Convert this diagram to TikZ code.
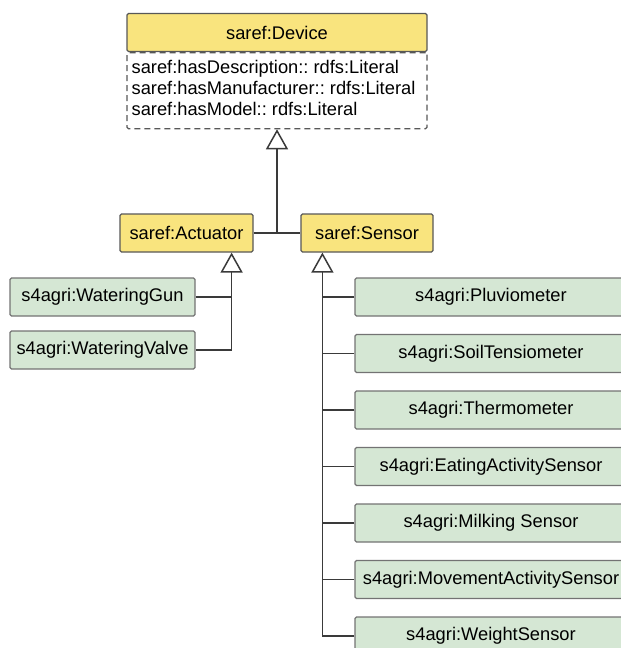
\documentclass[tikz,border=0pt]{standalone}
\usepackage{xcolor}
\usepackage{fontspec}
\setmainfont{Liberation Sans}
\usetikzlibrary{arrows.meta}
\definecolor{headyellow}{RGB}{249,228,126}
\definecolor{subgreen}{RGB}{213,231,212}
\definecolor{edgegray}{RGB}{58,58,58}
\frenchspacing
\tikzstyle{classbox} = [rectangle, rounded corners=1.5pt, minimum height=38pt, inner sep=2pt, text centered, draw=edgegray!85, line width=1.2pt, fill=headyellow]
\tikzstyle{subbox} = [classbox, fill=subgreen, draw=gray!90!black]
\tikzstyle{attrbox} = [rectangle, rounded corners=1.5pt, minimum width=300pt, minimum height=76pt, draw=edgegray!85, line width=1.2pt, dash pattern=on 6pt off 4pt]
\tikzstyle{attrtext} = [anchor=north west, align=left, inner sep=0pt]
\tikzstyle{link} = [line width=1.5pt, draw=edgegray]
\tikzstyle{inherit} = [link, -{Triangle[open, length=20pt, width=22pt, line width=1.5pt]}]

\begin{document}
\begin{tikzpicture}[x=1pt, y=-1pt, font=\fontsize{18.3}{21}\selectfont]
	\useasboundingbox (0,0) rectangle (621,648);
	\clip (0,0) rectangle (621,648);

	% top class with its attributes
	\node (device) [classbox, minimum width=300pt] at (277,32.5) {saref:Device};
	\node (devattr) [attrbox, anchor=north] at (device.south) {};
	\node (devtext) [attrtext] at ([xshift=5pt, yshift=-8pt]devattr.north west) {saref:hasDescription:: rdfs:Literal\\saref:hasManufacturer:: rdfs:Literal\\saref:hasModel:: rdfs:Literal};

	\node (actuator) [classbox, minimum width=133pt] at (186.5,233) {saref:Actuator};
	\node (sensor) [classbox, minimum width=132pt] at (367,233) {saref:Sensor};

	% actuator kinds
	\begin{scope}[node distance=53pt]
		\node (gun) [subbox, minimum width=185pt] at (102.5,297) {s4agri:WateringGun};
		\node (valve) [subbox, minimum width=185pt, below of=gun] {s4agri:WateringValve};
	\end{scope}

	% sensor kinds
	\begin{scope}[node distance=56.5pt, every node/.append style={minimum width=272pt}]
		\node (pluvio) [subbox] at (491,297) {s4agri:Pluviometer};
		\node (soil) [subbox, below of=pluvio] {s4agri:SoilTensiometer};
		\node (thermo) [subbox, below of=soil] {s4agri:Thermometer};
		\node (eating) [subbox, below of=thermo] {s4agri:EatingActivitySensor};
		\node (milking) [subbox, below of=eating] {s4agri:Milking Sensor};
		\node (movement) [subbox, below of=milking] {s4agri:MovementActivitySensor};
		\node (weight) [subbox, below of=movement] {s4agri:WeightSensor};
	\end{scope}

	\coordinate (atrunk) at ([xshift=-22pt]actuator.south east);
	\coordinate (strunk) at ([xshift=22pt]sensor.south west);

	\draw [link] (actuator) -- (sensor);
	\draw [inherit] (devattr.south |- actuator.east) -- (devattr.south);

	\draw [inherit] (valve.east) -| (atrunk);
	\draw [link] (gun.east) -- (gun.east -| atrunk);

	\draw [inherit] (weight.west) -| (strunk);
	\foreach \kind in {pluvio,soil,thermo,eating,milking,movement}
		\draw [link] (\kind.west) -- (\kind.west -| strunk);

\end{tikzpicture}
\end{document}
